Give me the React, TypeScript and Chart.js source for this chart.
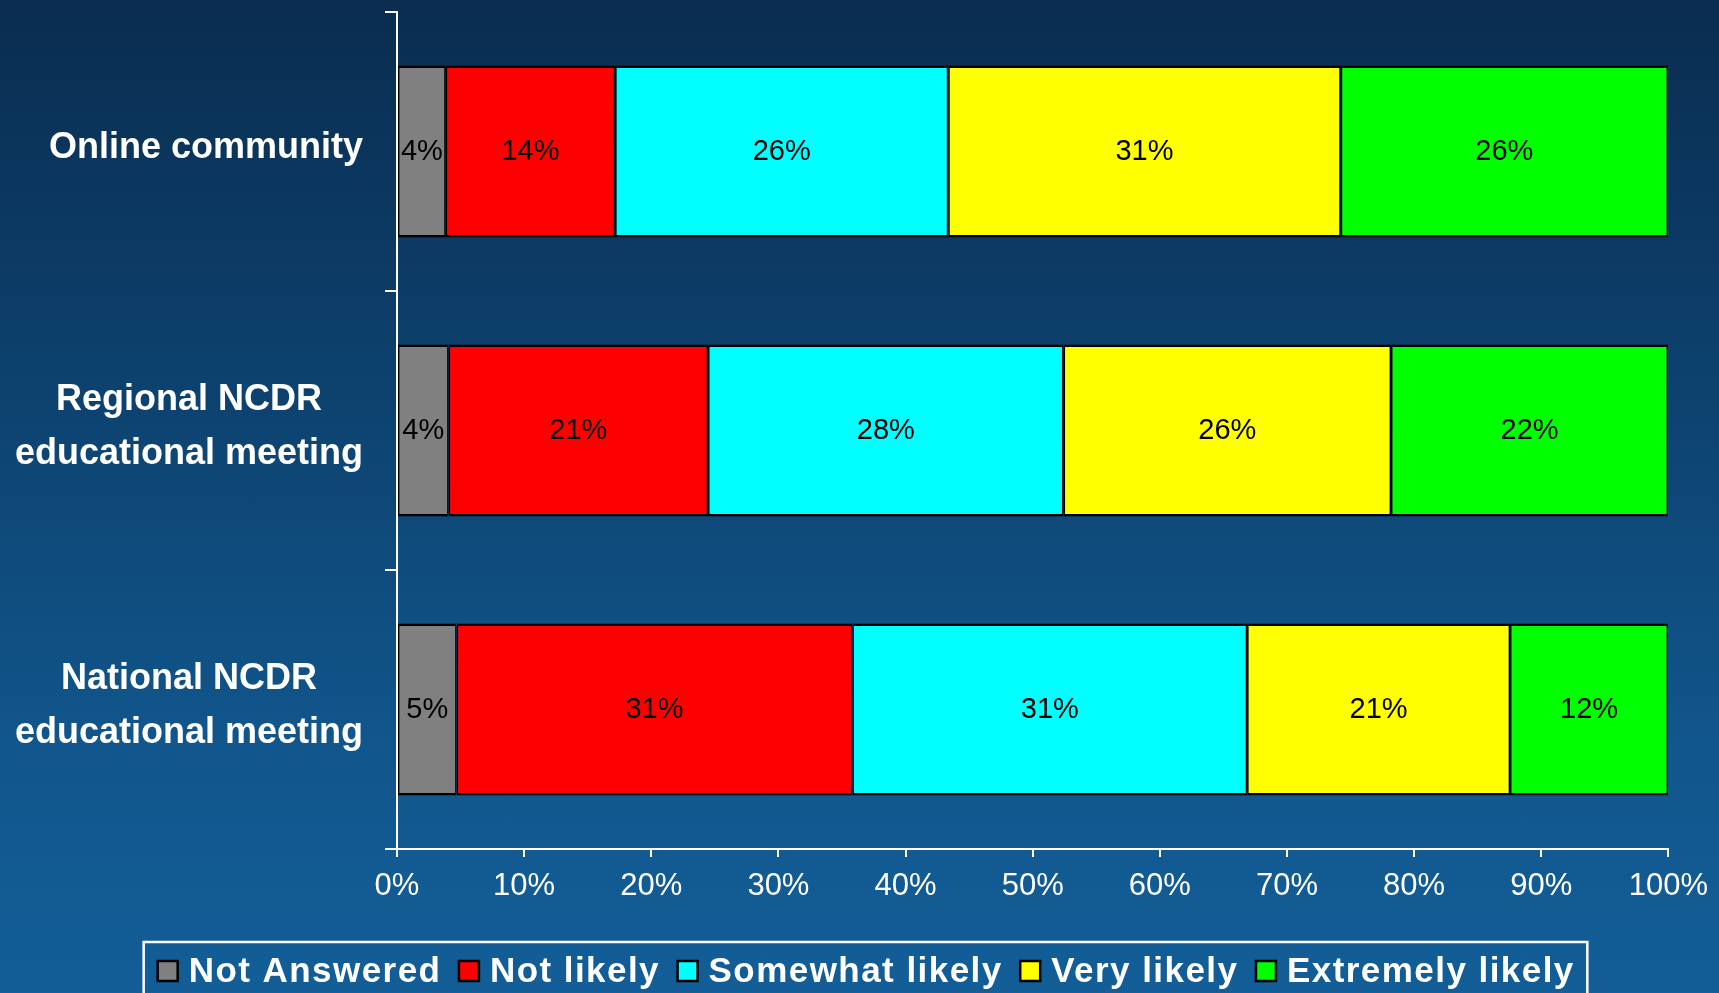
import React, { useEffect, useRef } from "react";
import { Chart, registerables } from "chart.js";

Chart.register(...registerables);

const categories: string[][] = [
  ["Online community"],
  ["Regional NCDR", "educational meeting"],
  ["National NCDR", "educational meeting"],
];
const seriesNames = ["Not Answered", "Not likely", "Somewhat likely", "Very likely", "Extremely likely"];
const seriesColors = ["#808080", "#ff0000", "#00ffff", "#ffff00", "#00ff00"];

const notAnswered = [3.83, 4.06, 4.69];
const notLikely = [13.33, 20.41, 31.13];
const somewhatLikely = [26.2, 27.96, 31.05];
const veryLikely = [30.87, 25.76, 20.68];
const extremelyLikely = [25.74, 21.78, 12.42];

const notAnsweredLabels = ["4%", "4%", "5%"];
const notLikelyLabels = ["14%", "21%", "31%"];
const somewhatLikelyLabels = ["26%", "28%", "31%"];
const veryLikelyLabels = ["31%", "26%", "21%"];
const extremelyLikelyLabels = ["26%", "22%", "12%"];

const xTickValues = [0, 10, 20, 30, 40, 50, 60, 70, 80, 90, 100];

const seriesValues = [notAnswered, notLikely, somewhatLikely, veryLikely, extremelyLikely];
const seriesLabels = [notAnsweredLabels, notLikelyLabels, somewhatLikelyLabels, veryLikelyLabels, extremelyLikelyLabels];

const FONT = "Arial, 'Liberation Sans', sans-serif";

const categoryLabelPlugin = {
  id: "categoryLabels",
  afterDraw(chart: any) {
    const ctx = chart.ctx;
    const ys = chart.scales.y;
    ctx.save();
    ctx.font = `bold 36px ${FONT}`;
    ctx.fillStyle = "#ffffff";
    ctx.textAlign = "center";
    ctx.textBaseline = "middle";
    categories.forEach((lines, i) => {
      const yc = ys.getPixelForTick(i);
      const bw = Math.max(...lines.map((l) => ctx.measureText(l).width));
      const right = chart.chartArea.left - 34;
      const cx = right - bw / 2;
      const lh = 54;
      lines.forEach((l, k) => {
        ctx.fillText(l, cx, yc + (k - (lines.length - 1) / 2) * lh - 3);
      });
    });
    ctx.restore();
  },
};

const dataLabelPlugin = {
  id: "dataLabels",
  afterDatasetsDraw(chart: any) {
    const ctx = chart.ctx;
    ctx.save();
    ctx.font = `29px ${FONT}`;
    ctx.fillStyle = "#000000";
    ctx.textAlign = "center";
    ctx.textBaseline = "middle";
    chart.data.datasets.forEach((ds: any, i: number) => {
      const meta = chart.getDatasetMeta(i);
      meta.data.forEach((el: any, j: number) => {
        const { x, y, base } = el.getProps(["x", "y", "base"], true);
        ctx.fillText(seriesLabels[i][j], (x + base) / 2, y);
      });
    });
    ctx.restore();
  },
};

const legendPlugin = {
  id: "boxLegend",
  afterDraw(chart: any) {
    const ctx = chart.ctx;
    ctx.save();
    const ls = 1.45;
    ctx.font = `bold 35px ${FONT}`;
    (ctx as any).letterSpacing = `${ls}px`;
    const box = 20;
    const gapBoxText = 11;
    const gapItems = 19;
    const widths = chart.data.datasets.map((d: any) => ctx.measureText(d.label).width - ls);
    const total = widths.reduce((a: number, w: number) => a + box + gapBoxText + w, 0) + gapItems * (widths.length - 1);
    const cx = chart.width / 2 + 6;
    let x = cx - total / 2;
    const yc = 971;
    ctx.strokeStyle = "#ffffff";
    ctx.lineWidth = 2.5;
    ctx.strokeRect(x - 14, 942, total + 28, 80);
    ctx.textBaseline = "middle";
    ctx.textAlign = "left";
    chart.data.datasets.forEach((d: any, i: number) => {
      ctx.fillStyle = d.backgroundColor;
      ctx.fillRect(x, yc - box / 2, box, box);
      ctx.lineWidth = 2.5;
      ctx.strokeStyle = "#000000";
      ctx.strokeRect(x, yc - box / 2, box, box);
      ctx.fillStyle = "#ffffff";
      ctx.fillText(d.label, x + box + gapBoxText, yc + 1);
      x += box + gapBoxText + widths[i] + gapItems;
    });
    ctx.restore();
  },
};

export default function App() {
  const ref = useRef<HTMLCanvasElement | null>(null);
  useEffect(() => {
    if (!ref.current) return;
    const chart = new Chart(ref.current, {
      type: "bar",
      data: {
        labels: categories,
        datasets: seriesNames.map((name, i) => ({
          label: name,
          data: seriesValues[i],
          backgroundColor: seriesColors[i],
          borderColor: "#000000",
          borderWidth: { top: 2.5, bottom: 2.5, left: 1.5, right: 1.5 },
          borderSkipped: false,
          barPercentage: 1,
          categoryPercentage: 0.617,
        })),
      },
      options: {
        indexAxis: "y",
        responsive: true,
        maintainAspectRatio: false,
        animation: false,
        layout: { padding: { top: 12, right: 50, bottom: 84, left: 0 } },
        plugins: {
          legend: { display: false },
          tooltip: { enabled: false },
        },
        scales: {
          x: {
            stacked: true,
            min: 0,
            max: 100,
            afterBuildTicks: (scale: any) => {
              scale.ticks = xTickValues.map((v) => ({ value: v }));
            },
            afterFit: (scale: any) => {
              scale.height = 60;
            },
            ticks: {
              color: "#ffffff",
              font: { family: FONT, size: 31 },
              padding: 11,
              maxRotation: 0,
              callback: (v: any) => `${v}%`,
            },
            grid: { drawOnChartArea: false, color: "#ffffff", lineWidth: 2, tickLength: 8 },
            border: { color: "#ffffff", width: 2 },
          },
          y: {
            stacked: true,
            afterFit: (scale: any) => {
              scale.width = 397;
            },
            ticks: { display: false },
            grid: { drawOnChartArea: false, color: "#ffffff", lineWidth: 2, tickLength: 12, offset: true },
            border: { color: "#ffffff", width: 2 },
          },
        },
      },
      plugins: [dataLabelPlugin, categoryLabelPlugin, legendPlugin],
    });
    return () => chart.destroy();
  }, []);

  return (
    <div
      style={{
        position: "fixed",
        left: 0,
        top: 0,
        width: 1719,
        height: 993,
        background: "linear-gradient(180deg, #0a2d50 0%, #0d426f 40%, #11568c 75%, #135e98 100%)",
      }}
    >
      <canvas ref={ref} />
    </div>
  );
}
